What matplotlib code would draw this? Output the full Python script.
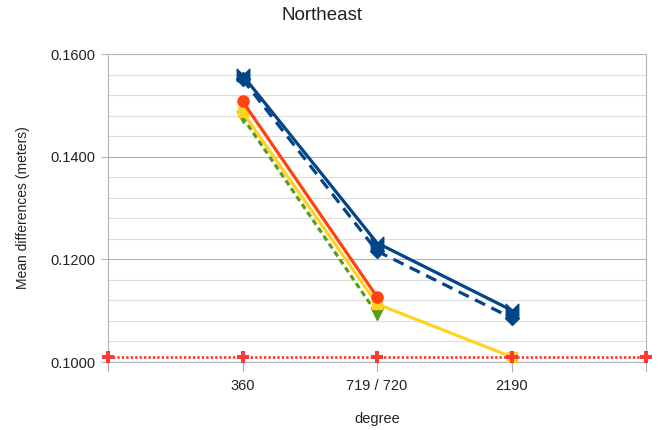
import matplotlib
matplotlib.use("Agg")
import matplotlib.pyplot as plt
from matplotlib.path import Path
from matplotlib.ticker import MultipleLocator, FormatStrFormatter

plt.rcParams['font.family'] = ['Liberation Sans', 'DejaVu Sans']

categories = ['', '360', '719 / 720', '2190', '']
x_all = [0, 1, 2, 3, 4]

series_a = [0.1559, 0.1232, 0.1101]        # solid dark blue, bowtie
series_b = [0.1551, 0.1216, 0.1086]        # dashed dark blue, diamond
series_c = [0.1508, 0.1127]                # orange, circle
series_d = [0.1487, 0.1113, 0.1010]        # yellow, square
series_e = [0.1477, 0.1094]                # green dashed, triangle
baseline = [0.1009, 0.1009, 0.1009, 0.1009, 0.1009]  # red dotted

bowtie = Path([(-1, -1), (1, 1), (1, -1), (-1, 1), (-1, -1)],
              [Path.MOVETO, Path.LINETO, Path.LINETO, Path.LINETO, Path.CLOSEPOLY])

fig = plt.figure(figsize=(6.59, 4.30), dpi=100)
ax = fig.add_axes([108 / 659, 1 - 362 / 430, (646 - 108) / 659, (362 - 54) / 430])

blue = '#004586'
ax.plot(x_all[1:4], series_a, color=blue, lw=2.3, marker=bowtie, ms=9, zorder=5)
ax.plot(x_all[1:4], series_b, color=blue, lw=2.3, ls=(0, (3.5, 2.2)), marker='D', ms=7, zorder=5)
ax.plot(x_all[1:3], series_c, color='#ff420e', lw=2.3, marker='o', ms=8, zorder=6)
ax.plot(x_all[1:4], series_d, color='#ffd320', lw=2.3, marker='s', ms=7, zorder=4)
ax.plot(x_all[1:3], series_e, color='#579d1c', lw=2.3, ls=(0, (1.8, 1.2)), marker='v', ms=8, zorder=3)
ax.plot(x_all, baseline, color='#ff3838', lw=2, ls=(0, (0.8, 0.8)), marker='P', ms=8, mew=0, zorder=7,
        clip_on=False)

ax.set_xlim(0, 4)
ax.set_ylim(0.1, 0.16)
ax.set_xticks(x_all)
ax.set_xticklabels(categories)
ax.yaxis.set_major_locator(MultipleLocator(0.02))
ax.yaxis.set_minor_locator(MultipleLocator(0.004))
ax.yaxis.set_major_formatter(FormatStrFormatter('%.4f'))

ax.grid(axis='y', which='major', color='#b3b3b3', lw=0.8)
ax.grid(axis='y', which='minor', color='#dddddd', lw=0.8)
ax.set_axisbelow(True)
for side in ['left', 'bottom', 'right']:
    ax.spines[side].set_color('#b3b3b3')
ax.spines['top'].set_visible(False)
ax.tick_params(axis='both', which='major', colors='#b3b3b3', labelcolor='#222222',
               labelsize=10.5, width=0.8)
ax.tick_params(axis='x', length=7, pad=5)
ax.tick_params(axis='y', length=5, pad=4)
ax.tick_params(axis='y', which='minor', length=0)

fig.text(0.488, 1 - 15 / 430, 'Northeast', fontsize=13.5, ha='center', va='center', color='#222222')
ax.set_ylabel('Mean differences (meters)', fontsize=10, labelpad=15, color='#222222')
ax.set_xlabel('degree', fontsize=10.5, labelpad=14, color='#222222')

fig.savefig('out.png', dpi=100)
